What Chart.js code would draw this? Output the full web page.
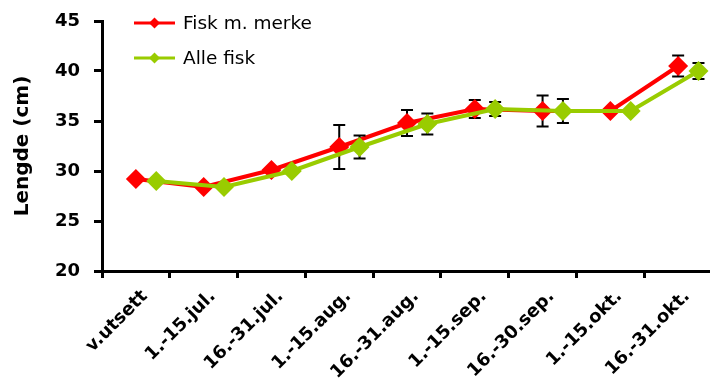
<!DOCTYPE html>
<html>
<head>
<meta charset="utf-8">
<script src="https://cdn.jsdelivr.net/npm/chart.js@4/dist/chart.umd.min.js"></script>
<style>
  html, body { margin: 0; padding: 0; background: #fff; }
  #wrap { width: 710px; height: 387px; position: relative; }
</style>
</head>
<body>
<div id="wrap"><canvas id="c"></canvas></div>
<script>
// Periods along the x axis
const categories = ['v.utsett', '1.-15.jul.', '16.-31.jul.', '1.-15.aug.', '16.-31.aug.',
                    '1.-15.sep.', '16.-30.sep.', '1.-15.okt.', '16.-31.okt.'];

// Mean length (cm) and error (± cm) per period
const merketLengde = [29.2, 28.4, 30.1, 32.4, 34.8, 36.2, 36.0, 36.0, 40.5];
const merketFeil   = [null, null, null, 2.2, 1.3, 0.9, 1.55, null, 1.05];
const alleLengde   = [29.0, 28.4, 30.0, 32.4, 34.7, 36.2, 36.0, 36.0, 40.0];
const alleFeil     = [null, null, null, 1.15, 1.05, 0.7, 1.2, null, 0.8];

const yTicks = [20, 25, 30, 35, 40, 45];
const seriesNames = ['Fisk m. merke', 'Alle fisk'];
const seriesColors = ['#ff0000', '#99cc00'];

Chart.defaults.font.family = "'DejaVu Sans', sans-serif";
Chart.defaults.color = '#000';

// Vertical error bars with caps, drawn just beneath each series
const errorBars = {
  id: 'errorBars',
  beforeDatasetDraw(chart, args) {
    const ds = chart.data.datasets[args.index];
    if (!ds.errors) return;
    const yScale = chart.scales.y;
    const ctx = chart.ctx;
    ctx.save();
    ctx.strokeStyle = '#000';
    ctx.lineWidth = 2;
    args.meta.data.forEach((pt, i) => {
      const e = ds.errors[i];
      if (!e) return;
      const v = ds.data[i].y;
      const top = yScale.getPixelForValue(v + e);
      const bot = yScale.getPixelForValue(v - e);
      ctx.beginPath();
      ctx.moveTo(pt.x, top); ctx.lineTo(pt.x, bot);
      ctx.moveTo(pt.x - 6, top); ctx.lineTo(pt.x + 6, top);
      ctx.moveTo(pt.x - 6, bot); ctx.lineTo(pt.x + 6, bot);
      ctx.stroke();
    });
    ctx.restore();
  }
};

// Legend placed inside the plot, top-left
const innerLegend = {
  id: 'innerLegend',
  afterDraw(chart) {
    const { ctx, chartArea } = chart;
    ctx.save();
    chart.data.datasets.forEach((ds, k) => {
      const y = chartArea.top + 2 + k * 35;
      const x0 = chartArea.left + 32;
      const x1 = chartArea.left + 73;
      const xm = (x0 + x1) / 2;
      ctx.strokeStyle = ds.borderColor;
      ctx.lineWidth = 3;
      ctx.beginPath(); ctx.moveTo(x0, y); ctx.lineTo(x1, y); ctx.stroke();
      ctx.fillStyle = ds.borderColor;
      ctx.beginPath();
      ctx.moveTo(xm - 5.5, y); ctx.lineTo(xm, y - 5.5);
      ctx.lineTo(xm + 5.5, y); ctx.lineTo(xm, y + 5.5);
      ctx.closePath(); ctx.fill();
      ctx.fillStyle = '#000';
      ctx.font = "18.5px 'DejaVu Sans', sans-serif";
      ctx.textAlign = 'left';
      ctx.textBaseline = 'middle';
      ctx.fillText(ds.label, chartArea.left + 81, y + 1);
    });
    ctx.restore();
  }
};

new Chart(document.getElementById('c'), {
  type: 'line',
  data: {
    datasets: [
      {
        label: seriesNames[0],
        data: merketLengde.map((v, i) => ({ x: i + 0.5, y: v })),
        errors: merketFeil,
        borderColor: seriesColors[0],
        backgroundColor: seriesColors[0],
        order: 2
      },
      {
        label: seriesNames[1],
        data: alleLengde.map((v, i) => ({ x: i + 0.8, y: v })),
        errors: alleFeil,
        borderColor: seriesColors[1],
        backgroundColor: seriesColors[1],
        order: 1
      }
    ]
  },
  options: {
    responsive: true,
    maintainAspectRatio: false,
    animation: false,
    layout: { autoPadding: false, padding: { top: 21, right: 0, left: 0, bottom: 0 } },
    elements: {
      line: { borderWidth: 4, tension: 0 },
      point: { pointStyle: 'rectRot', radius: 10, borderWidth: 0, hoverRadius: 10 }
    },
    datasets: { line: { clip: false } },
    plugins: { legend: { display: false }, tooltip: { enabled: false } },
    scales: {
      x: {
        type: 'linear',
        min: 0,
        max: 8.97,
        afterBuildTicks: s => { s.ticks = categories.map((_, i) => ({ value: i + 0.5 })); },
        afterFit: s => { s.height = 116; s.paddingLeft = 0; s.paddingRight = 0; },
        grid: { offset: true, drawOnChartArea: false, drawTicks: true, tickLength: 7, color: '#000', lineWidth: 3 },
        border: { display: true, color: '#000', width: 3 },
        ticks: {
          autoSkip: false, maxRotation: 45, minRotation: 45,
          padding: 8, labelOffset: 9,
          font: { size: 18, weight: 'bold' },
          callback: (v, i) => categories[i]
        }
      },
      y: {
        min: 20,
        max: 45,
        afterBuildTicks: s => { s.ticks = yTicks.map(v => ({ value: v })); },
        afterFit: s => { s.width = 102; s.paddingTop = 0; s.paddingBottom = 0; },
        grid: { drawOnChartArea: false, tickLength: 8, color: '#000', lineWidth: 3 },
        border: { display: true, color: '#000', width: 3 },
        ticks: { padding: 14, font: { size: 18, weight: 'bold' } },
        title: {
          display: true,
          text: 'Lengde (cm)',
          font: { size: 20, weight: 'bold' },
          padding: { top: 11, bottom: 0 }
        }
      }
    }
  },
  plugins: [errorBars, innerLegend]
});
</script>
</body>
</html>
